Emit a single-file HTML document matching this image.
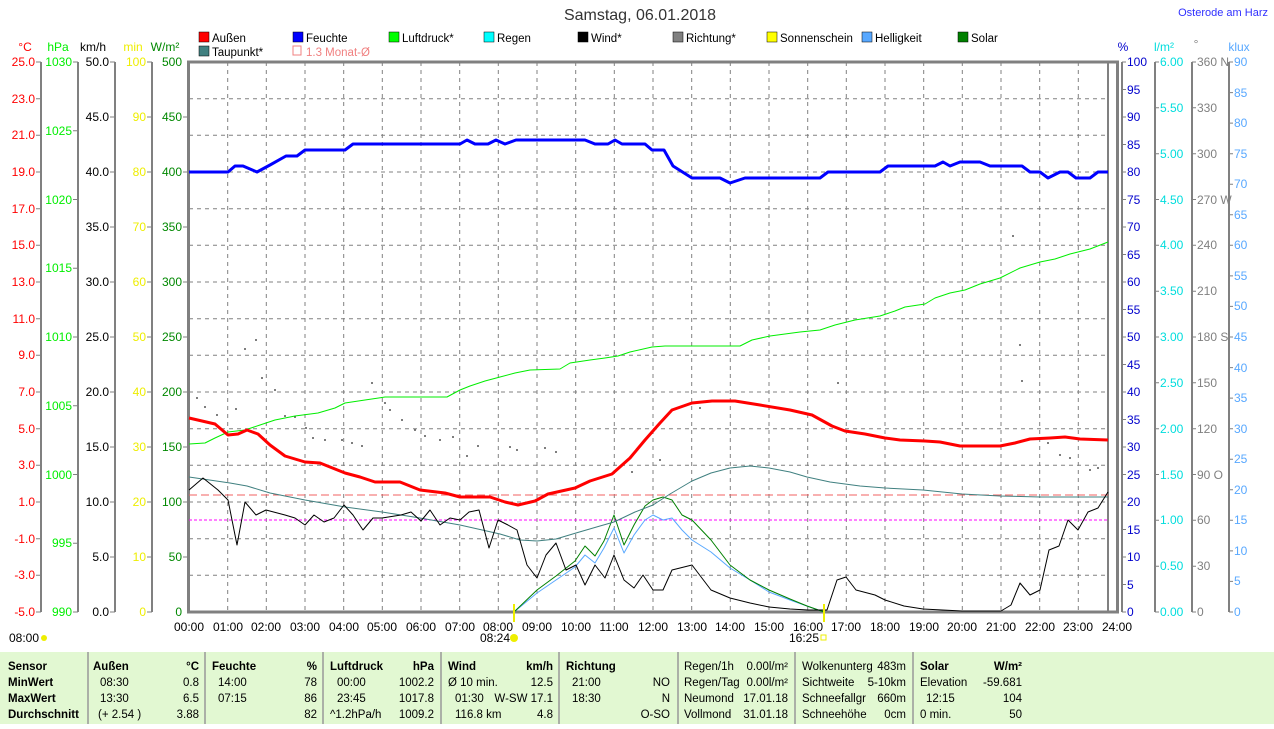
<!DOCTYPE html>
<html><head><meta charset="utf-8"><style>
body{margin:0;background:#fff;width:1274px;height:724px;overflow:hidden;font-family:"Liberation Sans",sans-serif}
svg text{font-family:"Liberation Sans",sans-serif}
</style></head><body>
<svg width="1274" height="724" xmlns="http://www.w3.org/2000/svg" font-size="12">
<rect width="1274" height="724" fill="#fff"/>
<text x="640" y="20" text-anchor="middle" font-size="16" fill="#333">Samstag, 06.01.2018</text>
<text x="1268" y="16" text-anchor="end" font-size="11" fill="#3030ff">Osterode am Harz</text>
<g font-size="11.5" fill="#000">
<rect x="199" y="32" width="10" height="10" fill="#f00" stroke="#000" stroke-width=".5"/><text x="212" y="42">Außen</text>
<rect x="293" y="32" width="10" height="10" fill="#00f" stroke="#000" stroke-width=".5"/><text x="306" y="42">Feuchte</text>
<rect x="389" y="32" width="10" height="10" fill="#0f0" stroke="#000" stroke-width=".5"/><text x="402" y="42">Luftdruck*</text>
<rect x="484" y="32" width="10" height="10" fill="#0ff" stroke="#000" stroke-width=".5"/><text x="497" y="42">Regen</text>
<rect x="578" y="32" width="10" height="10" fill="#000" stroke="#000" stroke-width=".5"/><text x="591" y="42">Wind*</text>
<rect x="673" y="32" width="10" height="10" fill="#808080" stroke="#000" stroke-width=".5"/><text x="686" y="42">Richtung*</text>
<rect x="767" y="32" width="10" height="10" fill="#ff0" stroke="#000" stroke-width=".5"/><text x="780" y="42">Sonnenschein</text>
<rect x="862" y="32" width="10" height="10" fill="#58a8ff" stroke="#000" stroke-width=".5"/><text x="875" y="42">Helligkeit</text>
<rect x="958" y="32" width="10" height="10" fill="#008000" stroke="#000" stroke-width=".5"/><text x="971" y="42">Solar</text>
<rect x="199" y="46" width="10" height="10" fill="#408080" stroke="#000" stroke-width=".5"/><text x="212" y="56">Taupunkt*</text>
<rect x="293" y="46" width="8" height="9" fill="none" stroke="#f08080"/><text x="306" y="56" fill="#f08080">1.3 Monat-Ø</text>
</g>
<g font-size="12">
<text x="25" y="51" text-anchor="middle" fill="#f00">°C</text>
<text x="58" y="51" text-anchor="middle" fill="#0e0">hPa</text>
<text x="93" y="51" text-anchor="middle" fill="#000">km/h</text>
<text x="133" y="51" text-anchor="middle" fill="#ee0">min</text>
<text x="165" y="51" text-anchor="middle" fill="#080">W/m²</text>
<text x="1123" y="51" text-anchor="middle" fill="#00c">%</text>
<text x="1164" y="51" text-anchor="middle" fill="#0dd">l/m²</text>
<text x="1196" y="48" text-anchor="middle" fill="#808080">°</text>
<text x="1239" y="51" text-anchor="middle" fill="#58a8ff">klux</text>
</g>
<g stroke="#808080" stroke-dasharray="4,4" stroke-width="1">
<line x1="189" y1="98.7" x2="1108" y2="98.7"/><line x1="189" y1="135.3" x2="1108" y2="135.3"/><line x1="189" y1="172" x2="1108" y2="172"/><line x1="189" y1="208.7" x2="1108" y2="208.7"/><line x1="189" y1="245.3" x2="1108" y2="245.3"/><line x1="189" y1="282" x2="1108" y2="282"/><line x1="189" y1="318.7" x2="1108" y2="318.7"/><line x1="189" y1="355.3" x2="1108" y2="355.3"/><line x1="189" y1="392" x2="1108" y2="392"/><line x1="189" y1="428.7" x2="1108" y2="428.7"/><line x1="189" y1="465.3" x2="1108" y2="465.3"/><line x1="189" y1="502" x2="1108" y2="502"/><line x1="189" y1="538.7" x2="1108" y2="538.7"/><line x1="189" y1="575.3" x2="1108" y2="575.3"/>
<line x1="227.7" y1="62" x2="227.7" y2="612"/><line x1="266.3" y1="62" x2="266.3" y2="612"/><line x1="305" y1="62" x2="305" y2="612"/><line x1="343.7" y1="62" x2="343.7" y2="612"/><line x1="382.3" y1="62" x2="382.3" y2="612"/><line x1="421" y1="62" x2="421" y2="612"/><line x1="459.7" y1="62" x2="459.7" y2="612"/><line x1="498.3" y1="62" x2="498.3" y2="612"/><line x1="537" y1="62" x2="537" y2="612"/><line x1="575.7" y1="62" x2="575.7" y2="612"/><line x1="614.3" y1="62" x2="614.3" y2="612"/><line x1="653" y1="62" x2="653" y2="612"/><line x1="691.7" y1="62" x2="691.7" y2="612"/><line x1="730.3" y1="62" x2="730.3" y2="612"/><line x1="769" y1="62" x2="769" y2="612"/><line x1="807.7" y1="62" x2="807.7" y2="612"/><line x1="846.3" y1="62" x2="846.3" y2="612"/><line x1="885" y1="62" x2="885" y2="612"/><line x1="923.7" y1="62" x2="923.7" y2="612"/><line x1="962.3" y1="62" x2="962.3" y2="612"/><line x1="1001" y1="62" x2="1001" y2="612"/><line x1="1039.7" y1="62" x2="1039.7" y2="612"/><line x1="1078.3" y1="62" x2="1078.3" y2="612"/>
</g>
<g stroke="#808080" stroke-width="2" fill="none">
<line x1="41" y1="62" x2="41" y2="612"/><line x1="78" y1="62" x2="78" y2="612"/><line x1="115" y1="62" x2="115" y2="612"/><line x1="152" y1="62" x2="152" y2="612"/>
<line x1="1122" y1="62" x2="1122" y2="612"/><line x1="1155" y1="62" x2="1155" y2="612"/><line x1="1192" y1="62" x2="1192" y2="612"/><line x1="1229" y1="62" x2="1229" y2="612"/>
<line x1="1108" y1="62" x2="1108" y2="612"/>
<rect x="188.5" y="62" width="929" height="550" stroke-width="3"/>
</g>
<g stroke="#808080" stroke-width="1" fill="none">
<path d="M36 62h5M36 98.7h5M36 135.3h5M36 172h5M36 208.7h5M36 245.3h5M36 282h5M36 318.7h5M36 355.3h5M36 392h5M36 428.7h5M36 465.3h5M36 502h5M36 538.7h5M36 575.3h5M36 612h5"/>
<path d="M73 62h5M73 130.75h5M73 199.5h5M73 268.25h5M73 337h5M73 405.75h5M73 474.5h5M73 543.25h5M73 612h5"/>
<path d="M110 62h5M110 117h5M110 172h5M110 227h5M110 282h5M110 337h5M110 392h5M110 447h5M110 502h5M110 557h5M110 612h5"/>
<path d="M147 62h5M147 117h5M147 172h5M147 227h5M147 282h5M147 337h5M147 392h5M147 447h5M147 502h5M147 557h5M147 612h5"/>
<path d="M183 117h5M183 172h5M183 227h5M183 282h5M183 337h5M183 392h5M183 447h5M183 502h5M183 557h5"/>
<path d="M1122 62h4M1122 89.5h4M1122 117h4M1122 144.5h4M1122 172h4M1122 199.5h4M1122 227h4M1122 254.5h4M1122 282h4M1122 309.5h4M1122 337h4M1122 364.5h4M1122 392h4M1122 419.5h4M1122 447h4M1122 474.5h4M1122 502h4M1122 529.5h4M1122 557h4M1122 584.5h4M1122 612h4"/>
<path d="M1155 62h4M1155 107.8h4M1155 153.7h4M1155 199.5h4M1155 245.3h4M1155 291.2h4M1155 337h4M1155 382.8h4M1155 428.7h4M1155 474.5h4M1155 520.3h4M1155 566.2h4M1155 612h4"/>
<path d="M1192 62h4M1192 107.8h4M1192 153.7h4M1192 199.5h4M1192 245.3h4M1192 291.2h4M1192 337h4M1192 382.8h4M1192 428.7h4M1192 474.5h4M1192 520.3h4M1192 566.2h4M1192 612h4"/>
<path d="M1229 62h4M1229 92.6h4M1229 123.1h4M1229 153.7h4M1229 184.2h4M1229 214.8h4M1229 245.3h4M1229 275.9h4M1229 306.4h4M1229 337h4M1229 367.6h4M1229 398.1h4M1229 428.7h4M1229 459.2h4M1229 489.8h4M1229 520.3h4M1229 550.9h4M1229 581.4h4M1229 612h4"/>
</g>
<g font-size="12" text-anchor="end">
<g fill="#f00"><text x="35" y="66">25.0</text><text x="35" y="103">23.0</text><text x="35" y="139">21.0</text><text x="35" y="176">19.0</text><text x="35" y="213">17.0</text><text x="35" y="249">15.0</text><text x="35" y="286">13.0</text><text x="35" y="323">11.0</text><text x="35" y="359">9.0</text><text x="35" y="396">7.0</text><text x="35" y="433">5.0</text><text x="35" y="469">3.0</text><text x="35" y="506">1.0</text><text x="35" y="543">-1.0</text><text x="35" y="579">-3.0</text><text x="35" y="616">-5.0</text></g>
<g fill="#0e0"><text x="72" y="66">1030</text><text x="72" y="135">1025</text><text x="72" y="204">1020</text><text x="72" y="272">1015</text><text x="72" y="341">1010</text><text x="72" y="410">1005</text><text x="72" y="479">1000</text><text x="72" y="547">995</text><text x="72" y="616">990</text></g>
<g fill="#000"><text x="109" y="66">50.0</text><text x="109" y="121">45.0</text><text x="109" y="176">40.0</text><text x="109" y="231">35.0</text><text x="109" y="286">30.0</text><text x="109" y="341">25.0</text><text x="109" y="396">20.0</text><text x="109" y="451">15.0</text><text x="109" y="506">10.0</text><text x="109" y="561">5.0</text><text x="109" y="616">0.0</text></g>
<g fill="#ee0"><text x="146" y="66">100</text><text x="146" y="121">90</text><text x="146" y="176">80</text><text x="146" y="231">70</text><text x="146" y="286">60</text><text x="146" y="341">50</text><text x="146" y="396">40</text><text x="146" y="451">30</text><text x="146" y="506">20</text><text x="146" y="561">10</text><text x="146" y="616">0</text></g>
<g fill="#080"><text x="182" y="66">500</text><text x="182" y="121">450</text><text x="182" y="176">400</text><text x="182" y="231">350</text><text x="182" y="286">300</text><text x="182" y="341">250</text><text x="182" y="396">200</text><text x="182" y="451">150</text><text x="182" y="506">100</text><text x="182" y="561">50</text><text x="182" y="616">0</text></g>
</g>
<g font-size="12">
<g fill="#00c"><text x="1127" y="66">100</text><text x="1127" y="94">95</text><text x="1127" y="121">90</text><text x="1127" y="149">85</text><text x="1127" y="176">80</text><text x="1127" y="204">75</text><text x="1127" y="231">70</text><text x="1127" y="259">65</text><text x="1127" y="286">60</text><text x="1127" y="314">55</text><text x="1127" y="341">50</text><text x="1127" y="369">45</text><text x="1127" y="396">40</text><text x="1127" y="424">35</text><text x="1127" y="451">30</text><text x="1127" y="479">25</text><text x="1127" y="506">20</text><text x="1127" y="534">15</text><text x="1127" y="561">10</text><text x="1127" y="589">5</text><text x="1127" y="616">0</text></g>
<g fill="#0dd"><text x="1160" y="66">6.00</text><text x="1160" y="112">5.50</text><text x="1160" y="158">5.00</text><text x="1160" y="204">4.50</text><text x="1160" y="249">4.00</text><text x="1160" y="295">3.50</text><text x="1160" y="341">3.00</text><text x="1160" y="387">2.50</text><text x="1160" y="433">2.00</text><text x="1160" y="479">1.50</text><text x="1160" y="524">1.00</text><text x="1160" y="570">0.50</text><text x="1160" y="616">0.00</text></g>
<g fill="#808080"><text x="1197" y="66">360 N</text><text x="1197" y="112">330</text><text x="1197" y="158">300</text><text x="1197" y="204">270 W</text><text x="1197" y="249">240</text><text x="1197" y="295">210</text><text x="1197" y="341">180 S</text><text x="1197" y="387">150</text><text x="1197" y="433">120</text><text x="1197" y="479">90 O</text><text x="1197" y="524">60</text><text x="1197" y="570">30</text><text x="1197" y="616">0</text></g>
<g fill="#58a8ff"><text x="1234" y="66">90</text><text x="1234" y="97">85</text><text x="1234" y="127">80</text><text x="1234" y="158">75</text><text x="1234" y="188">70</text><text x="1234" y="219">65</text><text x="1234" y="249">60</text><text x="1234" y="280">55</text><text x="1234" y="310">50</text><text x="1234" y="341">45</text><text x="1234" y="372">40</text><text x="1234" y="402">35</text><text x="1234" y="433">30</text><text x="1234" y="463">25</text><text x="1234" y="494">20</text><text x="1234" y="524">15</text><text x="1234" y="555">10</text><text x="1234" y="585">5</text><text x="1234" y="616">0</text></g>
</g>
<line x1="189" y1="495" x2="1108" y2="495" stroke="#f06060" stroke-dasharray="8,4"/>
<line x1="189" y1="520" x2="1108" y2="520" stroke="#f0f" stroke-dasharray="3,2"/>
<g fill="#555"><circle cx="197" cy="398" r="1"/><circle cx="205" cy="407" r="1"/><circle cx="217" cy="415" r="1"/><circle cx="236" cy="409" r="1"/><circle cx="245" cy="349" r="1"/><circle cx="256" cy="340" r="1"/><circle cx="262" cy="378" r="1"/><circle cx="275" cy="390" r="1"/><circle cx="285" cy="416" r="1"/><circle cx="295" cy="417" r="1"/><circle cx="306" cy="428" r="1"/><circle cx="313" cy="438" r="1"/><circle cx="325" cy="440" r="1"/><circle cx="342" cy="440" r="1"/><circle cx="352" cy="443" r="1"/><circle cx="362" cy="446" r="1"/><circle cx="372" cy="383" r="1"/><circle cx="385" cy="403" r="1"/><circle cx="390" cy="410" r="1"/><circle cx="402" cy="420" r="1"/><circle cx="415" cy="430" r="1"/><circle cx="425" cy="436" r="1"/><circle cx="440" cy="440" r="1"/><circle cx="453" cy="437" r="1"/><circle cx="467" cy="456" r="1"/><circle cx="478" cy="446" r="1"/><circle cx="510" cy="447" r="1"/><circle cx="517" cy="450" r="1"/><circle cx="545" cy="448" r="1"/><circle cx="556" cy="452" r="1"/><circle cx="632" cy="472" r="1"/><circle cx="660" cy="460" r="1"/><circle cx="700" cy="408" r="1"/><circle cx="838" cy="383" r="1"/><circle cx="1013" cy="236" r="1"/><circle cx="1020" cy="345" r="1"/><circle cx="1022" cy="381" r="1"/><circle cx="1048" cy="443" r="1"/><circle cx="1060" cy="455" r="1"/><circle cx="1070" cy="458" r="1"/><circle cx="1090" cy="470" r="1"/><circle cx="1098" cy="468" r="1"/></g>
<g fill="none" stroke-linejoin="round">
<polyline stroke="#58a8ff" stroke-width="1" points="514,612 537,593 556,580 575,567 585,555 595,563 604,548 614,528 624,553 634,535 645,520 653,515 663,520 672,518 682,530 692,540 711,552 730,568 750,580 769,592 790,600 807,606 824,612"/>
<polyline stroke="#008000" stroke-width="1" points="514,612 537,590 556,576 575,561 585,546 595,556 604,541 614,515 624,545 634,525 645,506 653,500 663,497 672,500 682,515 692,520 711,540 730,565 750,580 769,590 790,599 807,606 824,612"/>
<polyline stroke="#408080" stroke-width="1" points="189,477 230,483 247,486 270,493 305,500 345,507 382,512 420,518 460,525 500,534 520,540 537,541 556,539 576,533 600,526 614,522 635,512 653,505 670,494 692,481 711,473 730,468 750,466 769,468 790,472 807,477 830,482 860,486 885,488 923,490 962,494 1000,496 1040,497 1108,497"/>
<polyline stroke="#000" stroke-width="1" points="189,490 203,478 218,490 228,500 237,545 245,502 256,515 266,510 285,515 295,518 305,525 314,515 324,522 334,518 344,505 353,515 363,530 373,518 382,518 401,515 411,512 421,521 430,510 440,525 450,518 460,520 469,512 479,510 489,548 498,520 508,525 517,530 527,565 537,578 546,555 556,543 566,570 576,565 585,585 595,565 605,578 614,555 624,580 634,588 643,575 653,590 663,590 672,570 692,565 711,590 730,598 750,603 769,607 790,609 808,610 827,610 837,580 846,577 856,590 875,595 885,600 904,606 923,609 962,611 1001,611 1011,605 1020,583 1030,595 1040,590 1049,550 1059,546 1068,520 1078,530 1088,512 1098,508 1108,492"/>
<polyline stroke="#0e0" stroke-width="1" points="189,444 205,443 215,438 228,432 245,430 260,425 275,420 295,416 318,413 335,408 345,403 365,400 385,397 400,397 447,397 460,390 470,386 485,381 500,377 515,373 530,370 560,369 570,363 590,360 605,358 618,356 630,352 652,347 665,346 740,346 752,340 770,336 800,332 820,330 835,325 855,320 880,316 895,311 905,307 925,304 935,298 950,293 965,290 980,284 1000,278 1020,268 1040,262 1055,259 1070,254 1090,249 1108,242"/>
<polyline stroke="#f00" stroke-width="3" points="189,418 215,424 228,435 238,434 247,430 258,434 270,445 285,456 305,462 320,463 345,473 360,477 375,482 400,482 420,490 445,493 460,497 490,497 505,502 518,505 535,501 548,494 575,488 590,481 612,474 630,458 645,440 660,423 672,410 692,403 712,401 735,401 760,405 790,410 812,415 832,426 845,431 865,434 885,438 900,440 925,441 940,442 960,446 1000,446 1015,443 1030,439 1050,438 1065,437 1080,439 1108,440"/>
<polyline stroke="#00f" stroke-width="3" points="189,172 228,172 235,166 243,166 257,172 270,165 286,156 297,156 305,150 345,150 353,144 460,144 467,140 475,144 488,144 496,140 505,144 516,140 585,140 595,144 608,144 615,140 622,144 645,144 652,150 664,150 673,166 692,178 720,178 730,183 745,178 820,178 828,172 880,172 888,166 935,166 943,162 950,166 960,162 980,162 990,166 1022,166 1030,172 1040,172 1048,178 1060,172 1068,172 1076,178 1090,178 1098,172 1108,172"/>
</g>
<g font-size="12" text-anchor="middle" fill="#000">
<text x="189" y="631">00:00</text><text x="228" y="631">01:00</text><text x="266" y="631">02:00</text><text x="305" y="631">03:00</text><text x="344" y="631">04:00</text><text x="382" y="631">05:00</text><text x="421" y="631">06:00</text><text x="460" y="631">07:00</text><text x="498" y="631">08:00</text><text x="537" y="631">09:00</text><text x="576" y="631">10:00</text><text x="614" y="631">11:00</text><text x="653" y="631">12:00</text><text x="692" y="631">13:00</text><text x="730" y="631">14:00</text><text x="769" y="631">15:00</text><text x="808" y="631">16:00</text><text x="846" y="631">17:00</text><text x="885" y="631">18:00</text><text x="924" y="631">19:00</text><text x="962" y="631">20:00</text><text x="1001" y="631">21:00</text><text x="1040" y="631">22:00</text><text x="1078" y="631">23:00</text><text x="1117" y="631">24:00</text>
<text x="495" y="642">08:24</text><text x="804" y="642">16:25</text>
</g>
<text x="9" y="642" font-size="12">08:00</text>
<circle cx="44" cy="638" r="3" fill="#ee0"/><circle cx="514" cy="638" r="4" fill="#ee0"/><rect x="821" y="635" width="5" height="5" fill="none" stroke="#ee0"/>
<line x1="514" y1="604" x2="514" y2="622" stroke="#ee0" stroke-width="2"/><line x1="824" y1="604" x2="824" y2="622" stroke="#ee0" stroke-width="2"/>
<rect x="0" y="652" width="1274" height="72" fill="#e2f8d2"/>
<g stroke="#999" stroke-width="1.5"><line x1="88" y1="652" x2="88" y2="724"/><line x1="205" y1="652" x2="205" y2="724"/><line x1="323" y1="652" x2="323" y2="724"/><line x1="441" y1="652" x2="441" y2="724"/><line x1="559" y1="652" x2="559" y2="724"/><line x1="678" y1="652" x2="678" y2="724"/><line x1="795" y1="652" x2="795" y2="724"/><line x1="913" y1="652" x2="913" y2="724"/></g>
<g font-size="11.5" fill="#000">
<g font-weight="bold"><text x="8" y="670">Sensor</text><text x="8" y="686">MinWert</text><text x="8" y="702">MaxWert</text><text x="8" y="718">Durchschnitt</text>
<text x="93" y="670">Außen</text><text x="199" y="670" text-anchor="end">°C</text><text x="212" y="670">Feuchte</text><text x="317" y="670" text-anchor="end">%</text><text x="330" y="670">Luftdruck</text><text x="434" y="670" text-anchor="end">hPa</text><text x="448" y="670">Wind</text><text x="553" y="670" text-anchor="end">km/h</text><text x="566" y="670">Richtung</text><text x="920" y="670">Solar</text><text x="1022" y="670" text-anchor="end">W/m²</text></g>
<text x="100" y="686">08:30</text><text x="199" y="686" text-anchor="end">0.8</text><text x="218" y="686">14:00</text><text x="317" y="686" text-anchor="end">78</text><text x="337" y="686">00:00</text><text x="434" y="686" text-anchor="end">1002.2</text><text x="448" y="686">Ø 10 min.</text><text x="553" y="686" text-anchor="end">12.5</text><text x="572" y="686">21:00</text><text x="670" y="686" text-anchor="end">NO</text>
<text x="100" y="702">13:30</text><text x="199" y="702" text-anchor="end">6.5</text><text x="218" y="702">07:15</text><text x="317" y="702" text-anchor="end">86</text><text x="337" y="702">23:45</text><text x="434" y="702" text-anchor="end">1017.8</text><text x="455" y="702">01:30</text><text x="553" y="702" text-anchor="end">W-SW 17.1</text><text x="572" y="702">18:30</text><text x="670" y="702" text-anchor="end">N</text>
<text x="98" y="718">(+ 2.54 )</text><text x="199" y="718" text-anchor="end">3.88</text><text x="317" y="718" text-anchor="end">82</text><text x="330" y="718">^1.2hPa/h</text><text x="434" y="718" text-anchor="end">1009.2</text><text x="455" y="718">116.8 km</text><text x="553" y="718" text-anchor="end">4.8</text><text x="670" y="718" text-anchor="end">O-SO</text>
<text x="684" y="670">Regen/1h</text><text x="788" y="670" text-anchor="end">0.00l/m²</text><text x="684" y="686">Regen/Tag</text><text x="788" y="686" text-anchor="end">0.00l/m²</text><text x="684" y="702">Neumond</text><text x="788" y="702" text-anchor="end">17.01.18</text><text x="684" y="718">Vollmond</text><text x="788" y="718" text-anchor="end">31.01.18</text>
<text x="802" y="670">Wolkenunterg</text><text x="906" y="670" text-anchor="end">483m</text><text x="802" y="686">Sichtweite</text><text x="906" y="686" text-anchor="end">5-10km</text><text x="802" y="702">Schneefallgr</text><text x="906" y="702" text-anchor="end">660m</text><text x="802" y="718">Schneehöhe</text><text x="906" y="718" text-anchor="end">0cm</text>
<text x="920" y="686">Elevation</text><text x="1022" y="686" text-anchor="end">-59.681</text><text x="926" y="702">12:15</text><text x="1022" y="702" text-anchor="end">104</text><text x="920" y="718">0 min.</text><text x="1022" y="718" text-anchor="end">50</text>
</g>
</svg>
</body></html>
